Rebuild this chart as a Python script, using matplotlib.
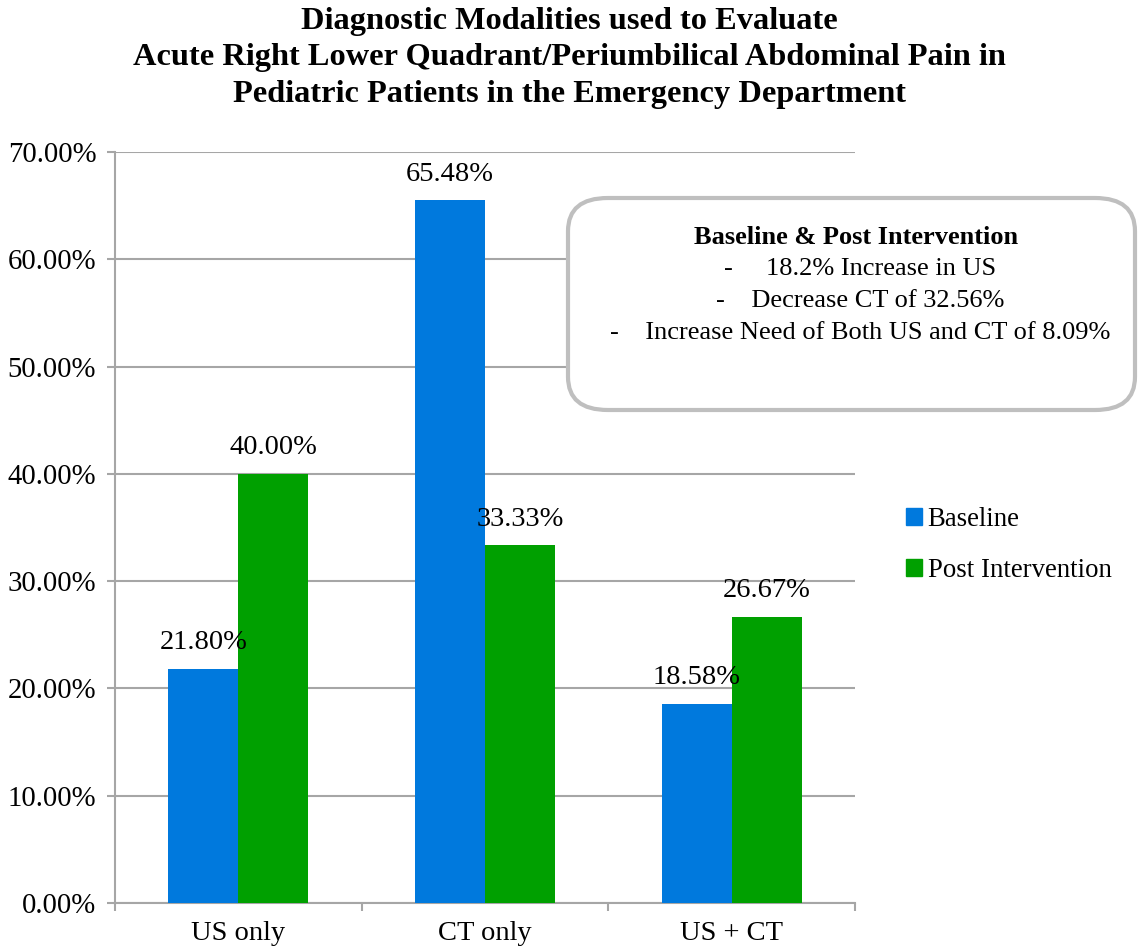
import matplotlib.pyplot as plt
from matplotlib.patches import FancyBboxPatch, Patch
from matplotlib.ticker import FuncFormatter

plt.rcParams['font.family'] = ['Liberation Serif', 'DejaVu Serif']

# Data
categories = ['US only', 'CT only', 'US + CT']
baseline = [0.2180, 0.6548, 0.1858]
post_intervention = [0.4000, 0.3333, 0.2667]
series_names = ['Baseline', 'Post Intervention']

title = ('Diagnostic Modalities used to Evaluate\n'
         'Acute Right Lower Quadrant/Periumbilical Abdominal Pain in\n'
         'Pediatric Patients in the Emergency Department')
box_title = 'Baseline & Post Intervention'
box_lines = ['-     18.2% Increase in US',
             '-    Decrease CT of 32.56%',
             '-    Increase Need of Both US and CT of 8.09%']

blue = '#0079DD'
green = '#00A000'
grid_gray = '#A6A6A6'

fig = plt.figure(figsize=(11.39, 9.47), dpi=100)
ax = fig.add_axes([115 / 1139, 44 / 947, 740 / 1139, 751 / 947])

width = 0.284
x = list(range(len(categories)))
bars1 = ax.bar([i - width / 2 for i in x], baseline, width, color=blue, zorder=3)
bars2 = ax.bar([i + width / 2 for i in x], post_intervention, width, color=green, zorder=3)

ax.set_xlim(-0.5, 2.5)
ax.set_ylim(0, 0.70)
ax.set_yticks([i / 10 for i in range(8)])
ax.yaxis.set_major_formatter(FuncFormatter(lambda v, p: '{:.2f}%'.format(v * 100)))
ax.yaxis.grid(True, color=grid_gray, linewidth=1.5, zorder=0)

ax.set_xticks([-0.5, 0.5, 1.5, 2.5])
ax.set_xticklabels([])
ax.set_xticks(x, minor=True)
ax.set_xticklabels(categories, minor=True)
ax.tick_params(axis='x', which='minor', length=0, pad=13, labelsize=20.5)
ax.tick_params(axis='x', which='major', length=6, width=1.5, color=grid_gray)
ax.tick_params(axis='y', length=6, width=1.5, color=grid_gray, pad=7.5, labelsize=20.7)

for s in ['top', 'right']:
    ax.spines[s].set_visible(False)
for s in ['left', 'bottom']:
    ax.spines[s].set_color(grid_gray)
    ax.spines[s].set_linewidth(1.5)

for bars in (bars1, bars2):
    for b in bars:
        h = b.get_height()
        ax.annotate('{:.2f}%'.format(h * 100),
                    (b.get_x() + b.get_width() / 2, h),
                    xytext=(0, 10), textcoords='offset points',
                    ha='center', va='bottom', fontsize=20.5, zorder=5)

fig.text(0.5, 1 - 58 / 947, title, ha='center', va='center',
         fontsize=23.3, fontweight='bold', linespacing=1.34)

# rounded annotation box
box = FancyBboxPatch((568 / 1139, (947 - 410) / 947), 567 / 1139, 212 / 947,
                     boxstyle='round,pad=0,rounding_size=0.035',
                     transform=fig.transFigure, facecolor='white',
                     edgecolor='#BFBFBF', linewidth=3, zorder=10)
fig.patches.append(box)
fig.text(856 / 1139, 1 - 237 / 947, box_title, ha='center', va='center',
         fontsize=19, fontweight='bold', zorder=11)
for k, line in enumerate(box_lines):
    fig.text(860 / 1139, 1 - (269 + 32 * k) / 947, line, ha='center',
             va='center', fontsize=19, zorder=11)

handles = [Patch(color=blue, label=series_names[0]),
           Patch(color=green, label=series_names[1])]
fig.legend(handles=handles, loc='center left',
           bbox_to_anchor=(882 / 1139, 1 - 545 / 947), frameon=False,
           fontsize=19.3, handlelength=0.6, handleheight=0.6,
           handletextpad=0.2, labelspacing=1.0)

fig.savefig('out.png', dpi=100)
